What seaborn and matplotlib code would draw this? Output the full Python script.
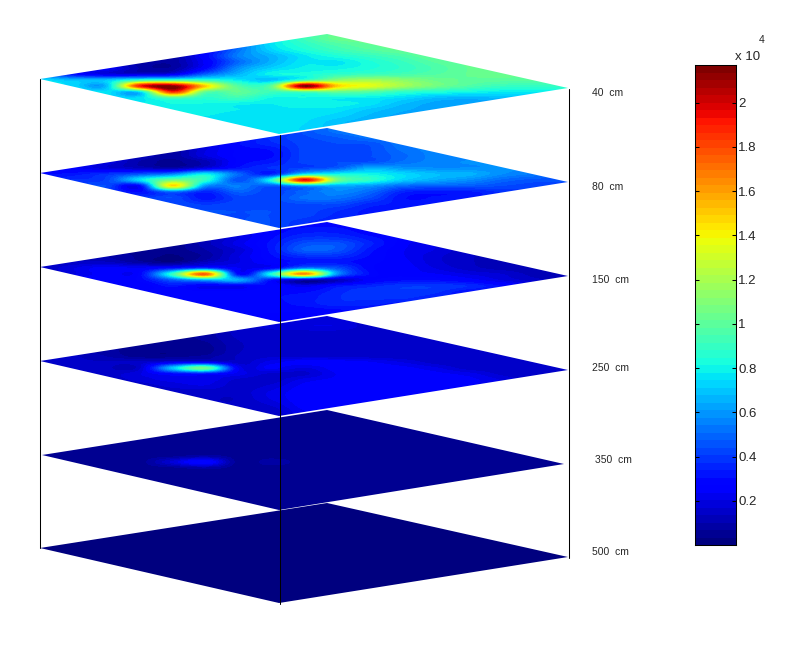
import numpy as np
import seaborn as sns
import matplotlib
matplotlib.use('Agg')
import matplotlib.pyplot as plt
from matplotlib.patches import Polygon

depths = ['40  cm', '80  cm', '150  cm', '250  cm', '350  cm', '500  cm']
tick_values = [0.2, 0.4, 0.6, 0.8, 1, 1.2, 1.4, 1.6, 1.8, 2]
tick_labels = ['0.2', '0.4', '0.6', '0.8', '1', '1.2', '1.4', '1.6', '1.8', '2']
vmax = 2.17

# readings in units of 100, one row per 6 px down the slice, one column per 33 px across
layer_40 = [
    [76, 60, 30, 10, 8, 25, 50, 72, 88, 102, 104, 104, 104, 104, 104, 104, 104],
    [76, 60, 30, 10, 8, 25, 50, 75, 92, 104, 104, 104, 104, 104, 104, 104, 104],
    [76, 50, 25, 10, 8, 25, 50, 76, 88, 97, 102, 104, 104, 104, 104, 104, 104],
    [76, 40, 20, 10, 8, 25, 52, 73, 84, 92, 98, 103, 104, 104, 104, 104, 104],
    [70, 35, 15, 10, 8, 28, 55, 66, 77, 84, 90, 96, 103, 104, 104, 104, 104],
    [60, 30, 15, 10, 8, 25, 50, 66, 77, 77, 84, 91, 99, 103, 104, 104, 104],
    [50, 30, 25, 10, 8, 28, 58, 72, 79, 80, 84, 89, 96, 102, 103, 103, 103],
    [50, 30, 20, 18, 22, 48, 66, 80, 83, 88, 91, 94, 98, 102, 103, 103, 103],
    [76, 68, 70, 88, 92, 88, 78, 70, 92, 112, 118, 112, 104, 101, 100, 99, 98],
    [76, 74, 68, 188, 214, 150, 98, 102, 215, 150, 135, 118, 106, 97, 91, 90, 90],
    [76, 76, 76, 74, 186, 102, 102, 92, 97, 102, 97, 88, 84, 81, 78, 78, 78],
    [76, 76, 76, 76, 96, 87, 92, 81, 81, 79, 78, 74, 68, 66, 68, 68, 68],
    [76, 76, 78, 78, 81, 81, 79, 78, 81, 80, 76, 68, 63, 62, 62, 62, 62],
    [76, 76, 78, 78, 79, 79, 78, 77, 77, 76, 70, 65, 63, 62, 62, 62, 62],
    [76, 76, 78, 78, 78, 78, 77, 77, 76, 73, 67, 63, 62, 62, 62, 62, 62],
    [76, 76, 77, 77, 77, 77, 77, 77, 75, 69, 65, 62, 62, 62, 62, 62, 62],
    [76, 76, 77, 77, 77, 77, 77, 77, 74, 69, 65, 62, 62, 62, 62, 62, 62],
    [76, 76, 77, 77, 77, 77, 77, 77, 74, 69, 65, 62, 62, 62, 62, 62, 62],
]
layer_80 = [
    [30, 25, 20, 14, 8, 18, 28, 35, 45, 52, 54, 54, 56, 58, 58, 58, 58],
    [30, 25, 20, 14, 8, 18, 28, 35, 45, 52, 54, 54, 56, 58, 58, 58, 58],
    [30, 25, 20, 14, 8, 18, 28, 38, 43, 47, 52, 54, 56, 58, 58, 58, 58],
    [30, 25, 20, 14, 8, 18, 30, 36, 42, 44, 45, 54, 56, 58, 58, 58, 58],
    [30, 25, 20, 14, 8, 20, 28, 31, 42, 44, 44, 52, 56, 58, 58, 58, 58],
    [30, 25, 20, 14, 8, 20, 28, 30, 42, 44, 44, 50, 56, 57, 58, 58, 58],
    [30, 25, 20, 10, 6, 12, 28, 33, 42, 44, 45, 52, 56, 58, 58, 58, 58],
    [28, 25, 18, 14, 10, 20, 32, 38, 42, 48, 65, 60, 58, 58, 58, 58, 58],
    [30, 32, 38, 45, 55, 78, 50, 35, 75, 80, 80, 74, 68, 66, 58, 54, 52],
    [35, 38, 42, 75, 105, 88, 45, 85, 195, 108, 88, 72, 64, 58, 50, 46, 46],
    [40, 42, 44, 28, 145, 60, 55, 46, 62, 64, 60, 50, 48, 47, 44, 42, 42],
    [44, 44, 42, 30, 50, 35, 48, 42, 50, 57, 50, 35, 32, 33, 38, 40, 42],
    [44, 44, 44, 40, 44, 32, 42, 42, 52, 52, 44, 31, 31, 33, 36, 38, 40],
    [44, 44, 44, 44, 44, 40, 43, 43, 44, 44, 36, 33, 33, 33, 34, 36, 38],
    [44, 44, 44, 44, 44, 44, 44, 44, 43, 38, 33, 33, 33, 33, 33, 34, 36],
    [44, 44, 44, 44, 44, 44, 44, 44, 42, 36, 33, 33, 33, 33, 33, 33, 33],
    [44, 44, 44, 44, 44, 44, 44, 44, 38, 34, 33, 33, 33, 33, 33, 33, 33],
    [44, 44, 44, 44, 44, 44, 44, 44, 37, 34, 33, 33, 33, 33, 33, 33, 33],
]
layer_150 = [
    [14, 14, 10, 6, 5, 12, 20, 28, 30, 30, 28, 24, 20, 14, 12, 11, 10],
    [14, 14, 10, 6, 5, 12, 20, 28, 30, 30, 28, 24, 20, 14, 12, 11, 10],
    [14, 14, 10, 6, 5, 12, 20, 28, 33, 33, 28, 24, 20, 14, 12, 11, 10],
    [14, 14, 10, 6, 5, 12, 20, 30, 38, 38, 32, 26, 20, 14, 12, 11, 10],
    [14, 14, 10, 6, 5, 12, 22, 32, 45, 46, 35, 25, 20, 14, 12, 11, 10],
    [14, 14, 10, 6, 5, 10, 18, 32, 48, 46, 32, 24, 20, 14, 12, 11, 10],
    [14, 14, 10, 6, 3, 8, 20, 30, 38, 38, 30, 24, 18, 14, 12, 11, 10],
    [14, 14, 14, 8, 4, 14, 20, 28, 32, 32, 28, 25, 18, 14, 12, 11, 10],
    [14, 20, 26, 24, 32, 40, 24, 28, 55, 45, 28, 26, 20, 15, 12, 11, 10],
    [14, 20, 26, 28, 90, 175, 30, 85, 165, 60, 30, 26, 24, 20, 17, 12, 10],
    [20, 26, 26, 28, 48, 65, 65, 32, 15, 14, 26, 30, 30, 26, 20, 15, 12],
    [26, 28, 28, 24, 32, 24, 24, 30, 22, 32, 36, 40, 40, 37, 30, 22, 18],
    [28, 28, 28, 28, 28, 28, 28, 30, 30, 36, 40, 40, 38, 30, 27, 22, 18],
    [28, 28, 28, 28, 28, 28, 28, 30, 32, 37, 38, 38, 34, 30, 27, 22, 18],
    [28, 28, 28, 28, 28, 28, 28, 29, 32, 36, 35, 32, 30, 27, 27, 22, 18],
    [28, 28, 28, 28, 28, 28, 28, 28, 28, 30, 30, 30, 28, 27, 27, 22, 18],
    [28, 28, 28, 28, 28, 28, 28, 26, 26, 26, 26, 26, 26, 26, 26, 22, 18],
    [28, 28, 28, 28, 28, 28, 28, 24, 22, 22, 24, 24, 24, 24, 24, 20, 18],
]
layer_250 = [
    [14, 12, 8, 5, 5, 8, 15, 18, 18, 18, 15, 14, 14, 14, 14, 14, 14],
    [14, 12, 8, 5, 5, 8, 15, 18, 18, 18, 15, 14, 14, 14, 14, 14, 14],
    [14, 12, 8, 5, 5, 8, 15, 18, 20, 20, 15, 14, 14, 14, 14, 14, 14],
    [14, 12, 8, 5, 5, 8, 15, 16, 16, 16, 15, 14, 14, 14, 14, 14, 14],
    [14, 12, 8, 5, 5, 8, 14, 15, 15, 15, 14, 14, 14, 14, 14, 14, 14],
    [14, 12, 8, 5, 5, 6, 13, 15, 15, 15, 14, 14, 14, 14, 14, 14, 14],
    [14, 12, 8, 5, 4, 5, 13, 15, 15, 15, 14, 14, 14, 14, 14, 14, 14],
    [14, 14, 10, 5, 5, 8, 14, 16, 16, 16, 15, 14, 14, 14, 14, 14, 14],
    [14, 14, 14, 15, 20, 22, 15, 22, 26, 26, 24, 20, 15, 14, 14, 14, 14],
    [14, 14, 14, 16, 70, 105, 24, 25, 20, 26, 26, 25, 21, 15, 14, 14, 14],
    [14, 14, 15, 20, 28, 30, 22, 16, 16, 24, 26, 26, 25, 22, 16, 14, 14],
    [14, 14, 15, 18, 22, 23, 16, 15, 22, 25, 26, 26, 26, 25, 20, 15, 14],
    [14, 14, 15, 15, 18, 20, 15, 18, 25, 26, 26, 26, 26, 24, 20, 15, 14],
    [14, 14, 15, 15, 15, 15, 15, 21, 26, 26, 26, 26, 24, 22, 20, 15, 14],
    [14, 14, 14, 14, 14, 14, 14, 21, 26, 26, 26, 25, 24, 22, 20, 15, 14],
    [14, 14, 14, 14, 14, 14, 14, 18, 26, 26, 25, 25, 24, 22, 20, 15, 14],
    [14, 14, 14, 14, 14, 14, 14, 15, 24, 25, 25, 25, 24, 22, 20, 15, 14],
    [14, 14, 14, 14, 14, 14, 14, 14, 22, 25, 25, 25, 24, 22, 20, 15, 14],
]
layer_350 = [
    [5, 5, 5, 5, 5, 5, 5, 5, 5, 5, 5, 5, 5, 5, 5, 5, 5],
    [5, 5, 5, 5, 5, 5, 5, 5, 5, 5, 5, 5, 5, 5, 5, 5, 5],
    [5, 5, 5, 5, 5, 5, 5, 5, 5, 5, 5, 5, 5, 5, 5, 5, 5],
    [5, 5, 5, 5, 5, 5, 5, 5, 5, 5, 5, 5, 5, 5, 5, 5, 5],
    [5, 5, 5, 5, 5, 5, 5, 5, 5, 5, 5, 5, 5, 5, 5, 5, 5],
    [5, 5, 5, 5, 5, 5, 5, 5, 5, 5, 5, 5, 5, 5, 5, 5, 5],
    [5, 5, 5, 5, 5, 5, 5, 5, 5, 5, 5, 5, 5, 5, 5, 5, 5],
    [5, 5, 5, 5, 5, 5, 5, 5, 5, 5, 5, 5, 5, 5, 5, 5, 5],
    [5, 5, 5, 5, 6, 9, 5, 5, 5, 5, 5, 5, 5, 5, 5, 5, 5],
    [5, 5, 5, 5, 18, 30, 5, 9, 5, 5, 5, 5, 5, 5, 5, 5, 5],
    [5, 5, 5, 5, 6, 9, 5, 5, 5, 5, 5, 5, 5, 5, 5, 5, 5],
    [5, 5, 5, 5, 5, 5, 5, 5, 5, 5, 5, 5, 5, 5, 5, 5, 5],
    [5, 5, 5, 5, 5, 5, 5, 5, 5, 5, 5, 5, 5, 5, 5, 5, 5],
    [5, 5, 5, 5, 5, 5, 5, 5, 5, 5, 5, 5, 5, 5, 5, 5, 5],
    [5, 5, 5, 5, 5, 5, 5, 5, 5, 5, 5, 5, 5, 5, 5, 5, 5],
    [5, 5, 5, 5, 5, 5, 5, 5, 5, 5, 5, 5, 5, 5, 5, 5, 5],
    [5, 5, 5, 5, 5, 5, 5, 5, 5, 5, 5, 5, 5, 5, 5, 5, 5],
    [5, 5, 5, 5, 5, 5, 5, 5, 5, 5, 5, 5, 5, 5, 5, 5, 5],
]
layer_500 = [
    [3, 3],
    [3, 3],
]

sns.set_style('white')
plt.rcParams['font.family'] = ['Liberation Sans', 'DejaVu Sans']
jet64 = plt.get_cmap('jet', 64)

fig = plt.figure(figsize=(7.98, 6.63), dpi=100)
ax = fig.add_axes([0, 0, 1, 1])

layers = [layer_40, layer_80, layer_150, layer_250, layer_350, layer_500]
left_y = [79, 173, 267, 361, 455, 548]
label_pos = [(592, 93), (592, 187), (592, 280), (592, 368), (595, 460), (592, 552)]

# bottom slice first so the upper ones sit over it
for i in range(5, -1, -1):
    y0 = left_y[i]
    xl, xr = (42, 564) if i == 4 else (40, 568)
    corners = [(xl, y0), (327, y0 - 45), (xr, y0 + 9), (279, y0 + 55)]
    im = ax.imshow(np.array(layers[i]), cmap=jet64, vmin=0, vmax=vmax * 100, aspect='auto',
                   interpolation='catrom', interpolation_stage='data',
                   extent=(23.5, 584.5, y0 + 58, y0 - 50))
    im.set_clip_path(Polygon(corners, closed=True, transform=ax.transData))

for i in range(6):
    ax.text(label_pos[i][0], label_pos[i][1], depths[i], fontsize=7.5, va='center', ha='left')

# the three corner posts
ax.plot([39.5, 39.5], [79, 548], color='black', lw=0.75)
ax.plot([568.5, 568.5], [89, 558], color='black', lw=0.75)
ax.plot([279.5, 279.5], [135, 604], color='black', lw=0.75)

ax.set_xlim(0, 798)
ax.set_ylim(663, 0)
ax.axis('off')

# colour bar
cax = fig.add_axes([695 / 798, 1 - 545 / 663, 41 / 798, 480 / 663])
bar = np.arange(64)[::-1].reshape(-1, 1)
sns.heatmap(bar, ax=cax, cmap=jet64, vmin=0, vmax=63, cbar=False, xticklabels=False)
cax.set_yticks([(vmax - v) / vmax * 64 for v in tick_values])
cax.set_yticklabels(tick_labels, rotation=0, fontsize=9.5)
cax.set_axisbelow(False)
cax.tick_params(axis='y', direction='in', left=True, right=True, labelleft=False, labelright=True,
                length=3, width=0.75, pad=1.5, color='black')
for s in cax.spines.values():
    s.set_visible(True)
    s.set_color('black')
    s.set_linewidth(0.75)

fig.text(735 / 798, 1 - 57 / 663, 'x 10', fontsize=9.5, va='center', ha='left')
fig.text(759 / 798, 1 - 40 / 663, '4', fontsize=7.5, va='center', ha='left')

plt.savefig('out.png', dpi=100)
